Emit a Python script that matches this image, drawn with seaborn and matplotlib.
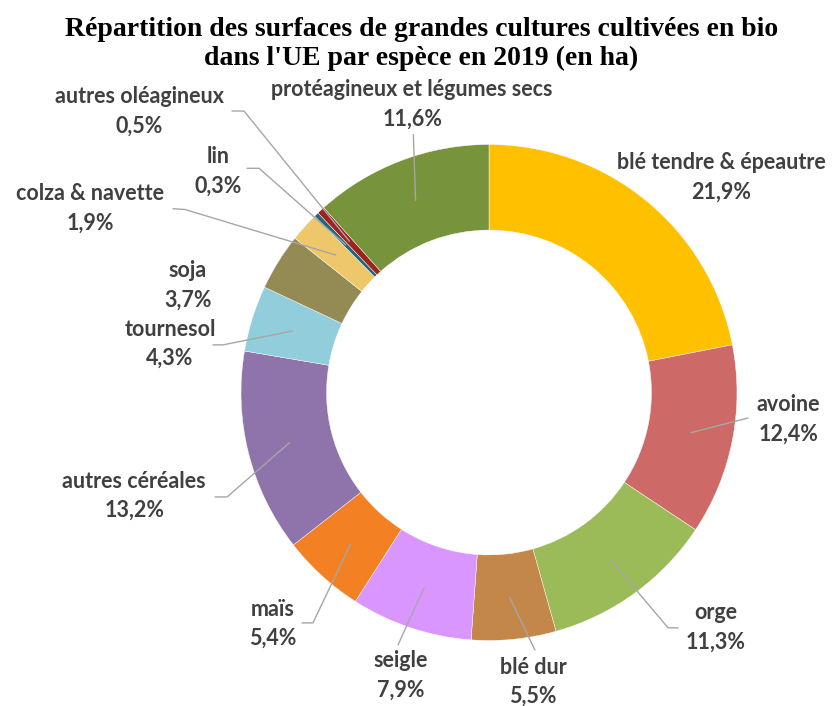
import matplotlib
matplotlib.use('Agg')
import matplotlib.pyplot as plt
import seaborn as sns
import numpy as np

# Parts of EU organic field crop area by species, 2019 (%)
especes = ["blé tendre & épeautre", "avoine", "orge", "blé dur", "seigle", "maïs",
           "autres céréales", "tournesol", "soja", "colza & navette", "lin",
           "autres oléagineux", "protéagineux et légumes secs"]
parts = [21.9, 12.4, 11.3, 5.5, 7.9, 5.4, 13.2, 4.3, 3.7, 1.9, 0.3, 0.5, 11.6]
couleurs = ["#FFC000", "#CD6A67", "#9BBB59", "#C4874A", "#DA96FF", "#F38124",
            "#8E74AB", "#92CDDC", "#948A54", "#EEC76A", "#1F6680", "#A1221C", "#77933C"]

# label layout (pie units, radius = 1): text centre, leader line end, elbow
label_pos = [(0.935, 0.869), (1.206, -0.107), (0.915, -0.948), (0.177, -1.167),
             (-0.355, -1.139), (-0.871, -0.933), (-1.431, -0.417), (-1.286, 0.196),
             (-1.214, 0.433), (-1.609, 0.744), (-1.093, 0.893), (-1.411, 1.135),
             (-0.310, 1.163)]
line_end = [None, (1.044, -0.103), (0.762, -0.949), (0.185, -1.038),
            (-0.367, -1.018), (-0.754, -0.929), (-1.105, -0.421), (-1.113, 0.192),
            None, (-1.274, 0.741), (-0.976, 0.904), (-1.036, 1.135), (-0.305, 1.040)]
line_elbow = [None, None, (0.722, -0.949), None, None, (-0.710, -0.929),
              (-1.056, -0.421), (-1.073, 0.192), None, (-1.226, 0.738),
              (-0.927, 0.904), (-0.988, 1.135), None]

sns.set_theme(style="white")
plt.rcParams['font.family'] = ['Lato', 'DejaVu Sans']

fig = plt.figure(figsize=(8.34, 7.06), dpi=100)
ax = fig.add_axes([0, 0, 1, 1])

wedges, _ = ax.pie(parts, colors=couleurs, startangle=90, counterclock=False,
                   radius=1, wedgeprops=dict(width=0.345, edgecolor="white", linewidth=0.3))

R = 248.0
ax.set_xlim(-489 / R, (834 - 489) / R)
ax.set_ylim((392.5 - 706) / R, 392.5 / R)
ax.set_aspect('auto')
ax.axis('off')

total = sum(parts)
cum = 0.0
for i, p in enumerate(parts):
    mid = cum + p / 2
    cum += p
    ang = np.deg2rad(90 - 360 * mid / total)
    start = (0.83 * np.cos(ang), 0.83 * np.sin(ang))
    if line_end[i] is not None:
        pts = [start]
        if line_elbow[i] is not None:
            pts.append(line_elbow[i])
        pts.append(line_end[i])
        xs, ys = zip(*pts)
        ax.plot(xs, ys, color="#A6A6A6", lw=1, zorder=3)
    txt = f"{especes[i]}\n{p:.1f}%".replace(".", ",")
    ax.text(label_pos[i][0], label_pos[i][1], txt, ha="center", va="center",
            fontsize=15.5, fontweight="bold", color="#404040", linespacing=1.5)

fig.text(0.505, 1 - 44 / 706, "Répartition des surfaces de grandes cultures cultivées en bio\n"
         "dans l'UE par espèce en 2019 (en ha)", ha="center", va="center",
         fontsize=20, fontweight="bold", family=["Liberation Serif", "DejaVu Serif"],
         color="black", linespacing=1.2)

fig.savefig("out.png", dpi=100)
